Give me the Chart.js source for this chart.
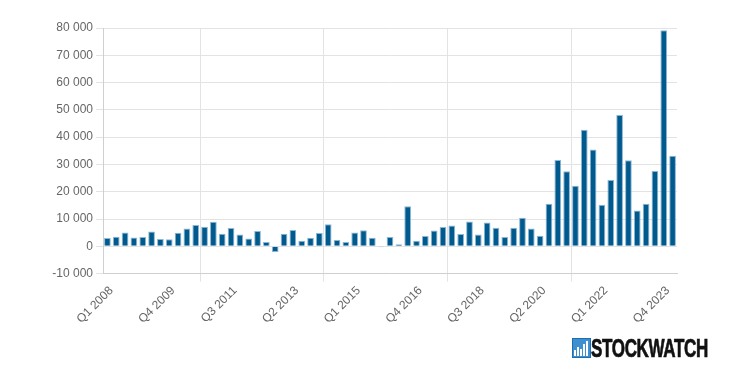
<!DOCTYPE html>
<html>
<head>
<meta charset="utf-8">
<script src="https://cdn.jsdelivr.net/npm/chart.js@4/dist/chart.umd.min.js"></script>
<style>
  html, body { margin: 0; padding: 0; background: #fff; }
  #wrap { position: relative; width: 750px; height: 373px; overflow: hidden; }
  #logo { position: absolute; left: 572px; top: 337px; height: 22px; display: flex; align-items: center; }
  #logoText { font-family: "Liberation Sans Narrow", "Liberation Sans", Arial, sans-serif; font-weight: bold; font-size: 25px; color: #111; transform-origin: left center; white-space: nowrap; line-height: 22px; letter-spacing: -0.5px; -webkit-text-stroke: 0.7px #111; }
</style>
</head>
<body>
<div id="wrap">
  <canvas id="c" width="750" height="373"></canvas>
  <div id="logo">
    <svg width="19" height="20" viewBox="0 0 19 20">
      <rect x="0" y="0" width="19" height="20" fill="#1f6fb0"/>
      <rect x="1" y="1" width="17" height="18" fill="#3d8fd0"/>
      <rect x="2" y="12" width="2" height="6" fill="#fff"/>
      <rect x="5" y="9" width="2" height="9" fill="#fff"/>
      <rect x="8" y="11" width="2" height="7" fill="#fff"/>
      <rect x="11" y="6" width="2" height="12" fill="#fff"/>
      <rect x="14" y="3" width="2" height="15" fill="#fff"/>
    </svg>
    <span id="logoText">STOCKWATCH</span>
  </div>
</div>
<script>
const categories = [
  "Q1 2008","Q2 2008","Q3 2008","Q4 2008",
  "Q1 2009","Q2 2009","Q3 2009","Q4 2009",
  "Q1 2010","Q2 2010","Q3 2010","Q4 2010",
  "Q1 2011","Q2 2011","Q3 2011","Q4 2011",
  "Q1 2012","Q2 2012","Q3 2012","Q4 2012",
  "Q1 2013","Q2 2013","Q3 2013","Q4 2013",
  "Q1 2014","Q2 2014","Q3 2014","Q4 2014",
  "Q1 2015","Q2 2015","Q3 2015","Q4 2015",
  "Q1 2016","Q2 2016","Q3 2016","Q4 2016",
  "Q1 2017","Q2 2017","Q3 2017","Q4 2017",
  "Q1 2018","Q2 2018","Q3 2018","Q4 2018",
  "Q1 2019","Q2 2019","Q3 2019","Q4 2019",
  "Q1 2020","Q2 2020","Q3 2020","Q4 2020",
  "Q1 2021","Q2 2021","Q3 2021","Q4 2021",
  "Q1 2022","Q2 2022","Q3 2022","Q4 2022",
  "Q1 2023","Q2 2023","Q3 2023","Q4 2023",
  "Q1 2024"
];

const values = [
  3000, 3500, 5100, 3200, 3400, 5400, 2700, 2600,
  5000, 6500, 7800, 7200, 9000, 4600, 6700, 4300,
  2900, 5600, 1600, -2100, 4600, 6000, 2000, 3100,
  4900, 8100, 2300, 1600, 5100, 5900, 3100, -300,
  3400, 800, 14700, 2000, 3800, 5800, 7100, 7600,
  4500, 9100, 4300, 8700, 6800, 3400, 6800, 10500,
  6500, 3900, 15600, 31600, 27500, 22200, 42700, 35500,
  15200, 24300, 48100, 31500, 13100, 15600, 27600, 79200,
  33200
];

const shownTickLabels = ["Q1 2008","Q4 2009","Q3 2011","Q2 2013","Q1 2015","Q4 2016","Q3 2018","Q2 2020","Q1 2022","Q4 2023"];
const verticalGridAt = [11, 25, 39, 53];
const yTicks = [-10000, 0, 10000, 20000, 30000, 40000, 50000, 60000, 70000, 80000];

function fmt(v) {
  const s = String(Math.abs(v)).replace(/\B(?=(\d{3})+(?!\d))/g, ' ');
  return (v < 0 ? '-' : '') + s;
}

const GRID = '#e3e3e3';
const AXIS = '#cfcfcf';
const TXT = '#666666';

new Chart(document.getElementById('c'), {
  type: 'bar',
  data: {
    labels: categories,
    datasets: [{
      data: values,
      backgroundColor: '#005a8e',
      borderColor: '#8cb6d6',
      borderWidth: 1,
      barPercentage: 0.76,
      categoryPercentage: 1.0
    }]
  },
  options: {
    responsive: false,
    animation: false,
    devicePixelRatio: 1,
    layout: { padding: { top: 28, right: 73, left: 0, bottom: 0 } },
    plugins: { legend: { display: false }, tooltip: { enabled: false } },
    scales: {
      x: {
        offset: true,
        afterFit: s => { s.height = 99.4; },
        grid: {
          offset: true,
          color: ctx => verticalGridAt.includes(ctx.index) ? GRID : 'rgba(0,0,0,0)',
          tickColor: ctx => verticalGridAt.includes(ctx.index) ? GRID : 'rgba(0,0,0,0)',
          tickLength: 8
        },
        border: { color: AXIS },
        ticks: {
          autoSkip: false,
          minRotation: 45,
          maxRotation: 45,
          color: TXT,
          font: { family: 'Arial, "Liberation Sans", sans-serif', size: 12 },
          padding: 2,
          labelOffset: 4,
          callback: function(v, i) {
            const l = categories[i];
            return shownTickLabels.includes(l) ? l : '';
          }
        }
      },
      y: {
        min: -10000,
        max: 80000,
        afterFit: s => { s.width = 103; },
        afterBuildTicks: s => { s.ticks = yTicks.map(v => ({ value: v })); },
        grid: { color: GRID, tickColor: GRID, tickLength: 7 },
        border: { color: AXIS },
        ticks: {
          color: TXT,
          font: { family: 'Arial, "Liberation Sans", sans-serif', size: 12 },
          padding: 3,
          callback: v => fmt(v)
        }
      }
    }
  }
});

(function fitLogo() {
  const t = document.getElementById('logoText');
  const w = t.getBoundingClientRect().width;
  const target = 117;
  t.style.transform = 'scaleX(' + (target / w) + ')';
})();
</script>
</body>
</html>
